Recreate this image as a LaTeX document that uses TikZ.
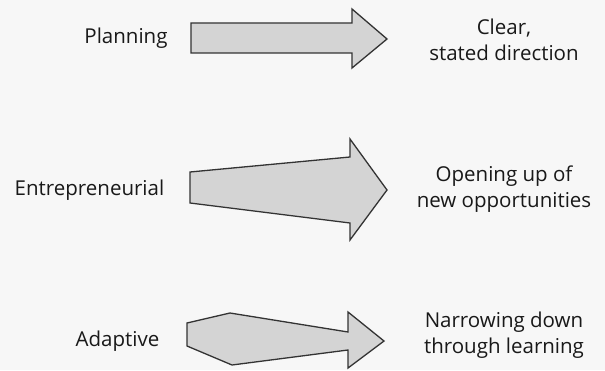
\documentclass[tikz,border=0pt]{standalone}
\usepackage{fontspec}
\setmainfont{Open Sans}
\begin{document}
\begin{tikzpicture}[x=1pt,y=1pt,
  label/.style={inner sep=0pt, font=\fontsize{20.5}{26}\selectfont, text=black!90},
  outcome/.style={label, align=center, anchor=base},
  strategy/.style={label, anchor=base},
  bigarrow/.style={draw=black!80, line width=1.3pt, fill=black!17, line join=miter}]
  % page
  \fill[black!3] (0,0) rectangle (605,370);
  \useasboundingbox (0,0) rectangle (605,370);

  % planning: straight shaft
  \path[bigarrow] (191,347) -- (352,347) -- (352,361) -- (387,331)
      -- (352,302) -- (352,317) -- (191,317) -- cycle;
  % entrepreneurial: shaft widening
  \path[bigarrow] (190,198) -- (350,213) -- (350,231) -- (387,180)
      -- (350,130) -- (350,147) -- (190,167) -- cycle;
  % adaptive: shaft narrowing after a bulge
  \path[bigarrow] (187,47) -- (230,57) -- (348,38) -- (348,58) -- (384,29)
      -- (348,2) -- (348,20) -- (232,5) -- (187,24) -- cycle;

  % strategies
  \node[strategy] (plan) at (126,326) {Planning};
  \node[strategy] (entr) at (89.5,175) {Entrepreneurial};
  \node[strategy] (adap) at (117.5,24) {Adaptive};

  % outcomes (base anchor sits on the last line)
  \node[outcome] (dir) at (504,309) {Clear,\\stated direction};
  \node[outcome] (opp) at (504,163) {Opening up of\\new opportunities};
  \node[outcome] (nar) at (504,17) {Narrowing down\\through learning};
\end{tikzpicture}
\end{document}
